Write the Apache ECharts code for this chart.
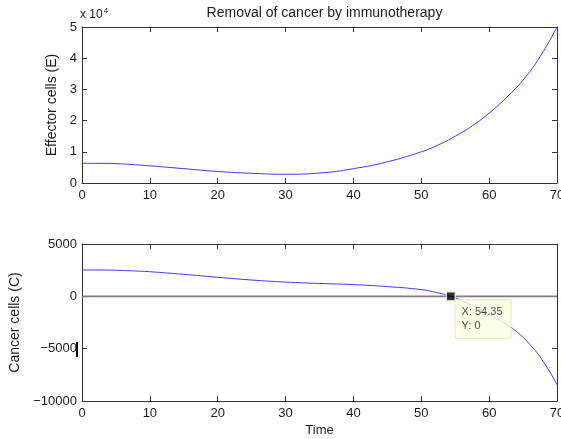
<!DOCTYPE html>
<html>
<head>
<meta charset="utf-8">
<script src="https://cdn.jsdelivr.net/npm/echarts@6/dist/echarts.min.js"></script>
<style>
  html, body { margin: 0; padding: 0; background: #ffffff; }
  #chart { width: 561px; height: 439px; }
</style>
</head>
<body>
<div id="chart"></div>
<script>
// ---- data ----
const titleText = 'Removal of cancer by immunotherapy';
const timeTicksMax = 70;

// Effector cells (units of 1e4)
const timeE = [0, 2.5, 5, 7.5, 10, 15, 20, 25, 30, 35, 40, 45, 50, 52.5, 55, 57.5, 60, 62.5, 65, 67.5, 70];
const effector = [0.63, 0.63, 0.62, 0.59, 0.55, 0.46, 0.37, 0.31, 0.28, 0.32, 0.46, 0.68, 1.0, 1.22, 1.5, 1.83, 2.24, 2.73, 3.3, 4.05, 5.0];

// Cancer cells
const timeC = [0, 2.5, 5, 7.5, 10, 15, 20, 25, 30, 35, 40, 45, 50, 52, 54.35, 56, 58, 60, 62, 64, 66, 68, 70];
const cancer = [2520, 2515, 2490, 2430, 2350, 2100, 1820, 1560, 1360, 1230, 1120, 930, 640, 400, 0, -420, -1030, -1700, -2450, -3350, -4600, -6250, -8450];

// zero reference line
const zeroT = [0, 70];
const zeroC = [0, 0];

// data tip
const tipX = 54.35;
const tipY = 0;

const pairs = (xs, ys) => xs.map((x, i) => [x, ys[i]]);

const font = 'Liberation Sans, Arial, sans-serif';
const axisColor = '#333333';
const labelColor = '#1a1a1a';

function xAx(gridIndex, position, showLabel, extra) {
  return Object.assign({
    type: 'value', gridIndex, position, min: 0, max: timeTicksMax, interval: 10,
    axisLine: { show: true, onZero: false, lineStyle: { color: axisColor, width: 1 } },
    axisTick: { show: true, inside: true, length: 5, lineStyle: { color: axisColor } },
    axisLabel: { show: showLabel, color: labelColor, fontFamily: font, fontSize: 13, margin: 6, hideOverlap: false },
    splitLine: { show: false }
  }, extra || {});
}
function yAx(gridIndex, position, showLabel, min, max, interval, extra) {
  return Object.assign({
    type: 'value', gridIndex, position, min, max, interval,
    axisLine: { show: true, onZero: false, lineStyle: { color: axisColor, width: 1 } },
    axisTick: { show: true, inside: true, length: 5, lineStyle: { color: axisColor } },
    axisLabel: { show: showLabel, color: labelColor, fontFamily: font, fontSize: 13, margin: 5,
                 formatter: v => (v < 0 ? '\u2212' + Math.abs(v) : String(v)) },
    splitLine: { show: false }
  }, extra || {});
}

const chart = echarts.init(document.getElementById('chart'), null, { renderer: 'canvas' });
chart.setOption({
  backgroundColor: '#ffffff',
  animation: false,
  title: {
    text: titleText, left: 319.5, top: 1, textAlign: 'center',
    textStyle: { fontFamily: font, fontSize: 14, fontWeight: 'normal', color: '#1a1a1a' }
  },
  grid: [
    { left: 82, top: 27, width: 475, height: 156, containLabel: false, outerBoundsMode: 'none' },
    { left: 82, top: 244, width: 475, height: 157, containLabel: false, outerBoundsMode: 'none' }
  ],
  xAxis: [
    xAx(0, 'bottom', true),
    xAx(0, 'top', false),
    xAx(1, 'bottom', true, {
      name: 'Time', nameLocation: 'middle', nameGap: 23,
      nameTextStyle: { fontFamily: font, fontSize: 13, color: labelColor }
    }),
    xAx(1, 'top', false)
  ],
  yAxis: [
    yAx(0, 'left', true, 0, 5, 1, {
      name: 'Effector cells (E)', nameLocation: 'middle', nameGap: 19, nameRotate: 90,
      nameTextStyle: { fontFamily: font, fontSize: 14, color: labelColor }
    }),
    yAx(0, 'right', false, 0, 5, 1),
    yAx(1, 'left', true, -10000, 5000, 5000, {
      name: 'Cancer cells (C)', nameLocation: 'middle', nameGap: 59, nameRotate: 90,
      nameTextStyle: { fontFamily: font, fontSize: 14, color: labelColor }
    }),
    yAx(1, 'right', false, -10000, 5000, 5000)
  ],
  series: [
    {
      type: 'line', xAxisIndex: 0, yAxisIndex: 0, data: pairs(timeE, effector),
      smooth: 0.5, showSymbol: false, lineStyle: { color: '#3a3aff', width: 1 }
    },
    {
      type: 'line', xAxisIndex: 2, yAxisIndex: 2, data: pairs(zeroT, zeroC),
      showSymbol: false, lineStyle: { color: '#857585', width: 1.6 }, z: 2
    },
    {
      type: 'line', xAxisIndex: 2, yAxisIndex: 2, data: pairs(timeC, cancer),
      smooth: 0.5, showSymbol: false, lineStyle: { color: '#3a3aff', width: 1 }, z: 3
    },
    {
      type: 'scatter', xAxisIndex: 2, yAxisIndex: 2, data: [[tipX, tipY]],
      symbol: 'rect', symbolSize: 9, z: 10,
      itemStyle: { color: '#000000', borderColor: '#ffffc8', borderWidth: 1.5 },
      label: {
        show: true, position: [10, 9], align: 'left', verticalAlign: 'top',
        formatter: () => 'X: ' + tipX + '\nY: ' + tipY,
        fontFamily: font, fontSize: 11, lineHeight: 14, color: '#1a1a1a',
        backgroundColor: '#ffffe1', borderColor: '#e3e3c4', borderWidth: 1,
        padding: [5, 8, 5, 6]
      }
    }
  ],
  graphic: [
    {
      type: 'text', left: 80, top: 7, z: 20,
      style: {
        text: '{a|x 10}{b|4}',
        rich: {
          a: { fontFamily: font, fontSize: 12, fill: '#1a1a1a', verticalAlign: 'bottom' },
          b: { fontFamily: font, fontSize: 8, fill: '#1a1a1a', verticalAlign: 'top', padding: [0, 0, 6, 1] }
        }
      }
    },
    {
      type: 'rect', shape: { x: 76, y: 342, width: 2, height: 15 },
      style: { fill: '#000000' }, z: 20
    }
  ]
});
</script>
</body>
</html>
